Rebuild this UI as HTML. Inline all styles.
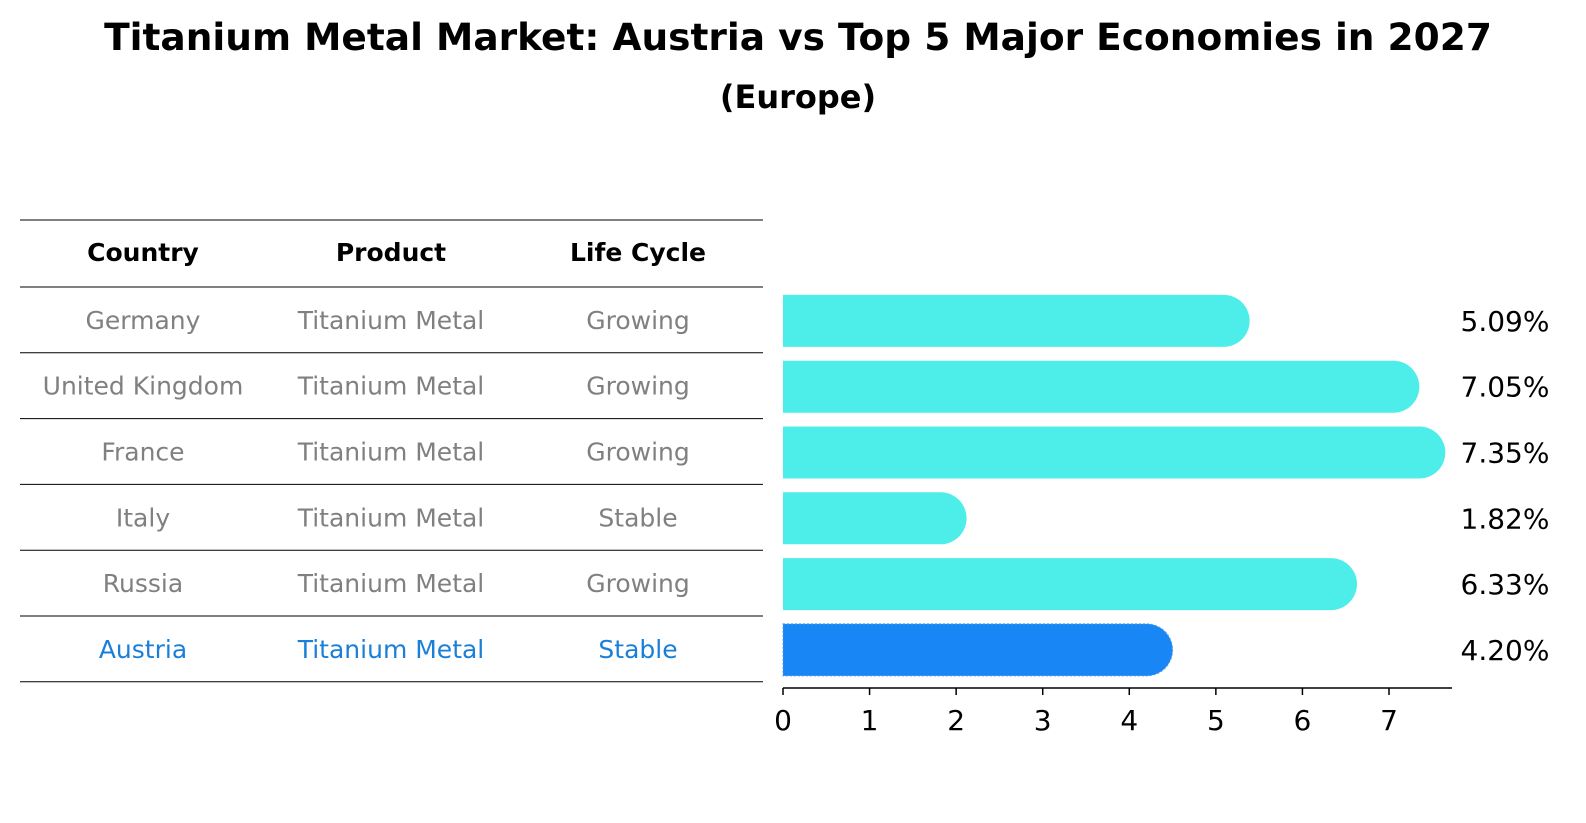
<!DOCTYPE html>
<html><head><meta charset="utf-8"><style>
html,body{margin:0;padding:0;background:#fff;overflow:hidden;width:1586px;height:823px;font-family:"Liberation Sans","DejaVu Sans",sans-serif;}
svg{display:block;}
svg text{font-family:"DejaVu Sans","Liberation Sans",sans-serif;}
</style></head><body>
<svg id="chart" width="1586" height="823" viewBox="0 0 1586 823" xmlns="http://www.w3.org/2000/svg">
<text x="798" y="50" text-anchor="middle" font-size="37.5" font-weight="bold">Titanium Metal Market: Austria vs Top 5 Major Economies in 2027</text>
<text x="798" y="108" text-anchor="middle" font-size="32" font-weight="bold">(Europe)</text>
<g id="table"></g>
<g id="bars"></g>
<g id="axis"></g>
</svg>
<script>
const countries=["Germany","United Kingdom","France","Italy","Russia","Austria"];
const products=["Titanium Metal","Titanium Metal","Titanium Metal","Titanium Metal","Titanium Metal","Titanium Metal"];
const lifeCycles=["Growing","Growing","Growing","Stable","Growing","Stable"];
const values=[5.09,7.05,7.35,1.82,6.33,4.20];
const valueLabels=["5.09%","7.05%","7.35%","1.82%","6.33%","4.20%"];
const ticks=[0,1,2,3,4,5,6,7];

const NS="http://www.w3.org/2000/svg";
function mk(tag,attrs,parent,text){const e=document.createElementNS(NS,tag);for(const k in attrs)e.setAttribute(k,attrs[k]);if(text!==undefined)e.textContent=text;parent.appendChild(e);return e;}
const x0=783,unit=(1389-783)/7;
function xs(v){return x0+v*unit;}
const rowTop=287,rowH=65.8;
function yc(i){return rowTop+rowH*(i+0.5);}

const table=document.getElementById('table');
const colX=[143,391,638];
let lines=[220,287];
for(let i=1;i<=countries.length;i++)lines.push(rowTop+rowH*i);
lines.forEach(y=>{const l=mk('line',{x1:20,x2:763,y1:y,y2:y,stroke:'#000','stroke-width':1},table);

});
["Country","Product","Life Cycle"].forEach((h,j)=>{const t=mk('text',{x:colX[j],y:261,'text-anchor':'middle','font-size':25,'font-weight':'bold'},table,h);

});
countries.forEach((c,i)=>{
 const col=i===countries.length-1?'#1a7fd9':'#808080';
 [c,products[i],lifeCycles[i]].forEach((v,j)=>{
  const t=mk('text',{x:colX[j],y:yc(i)+9,'text-anchor':'middle','font-size':25,fill:col},table,v);
  
  
 });
});

const bars=document.getElementById('bars');
const bh=52,r=26;
values.forEach((v,i)=>{
 const isA=i===values.length-1;
 const cy=yc(i)+1;
 const xe=xs(v);
 const col=isA?'#1886f5':'#4deee9';
 const p=mk('path',{d:`M${x0},${cy-bh/2} L${xe},${cy-bh/2} A${r},${bh/2} 0 0 1 ${xe},${cy+bh/2} L${x0},${cy+bh/2} Z`,fill:col},bars);
 if(isA){p.setAttribute('stroke','#5a9be0');p.setAttribute('stroke-dasharray','2,2');p.setAttribute('stroke-width','1');}
 
 
 const t=mk('text',{x:1505,y:cy+10,'text-anchor':'middle','font-size':28},bars,valueLabels[i]);
 
 
});

const axis=document.getElementById('axis');
const al=mk('line',{x1:x0,x2:1452,y1:688,y2:688,stroke:'#000','stroke-width':1.5},axis);


ticks.forEach(v=>{
 const l=mk('line',{x1:xs(v),x2:xs(v),y1:688,y2:695,stroke:'#000','stroke-width':1.5},axis);
 
 
 const t=mk('text',{x:xs(v),y:730,'text-anchor':'middle','font-size':28},axis,String(v));
 
 
});
</script>
</body></html>
